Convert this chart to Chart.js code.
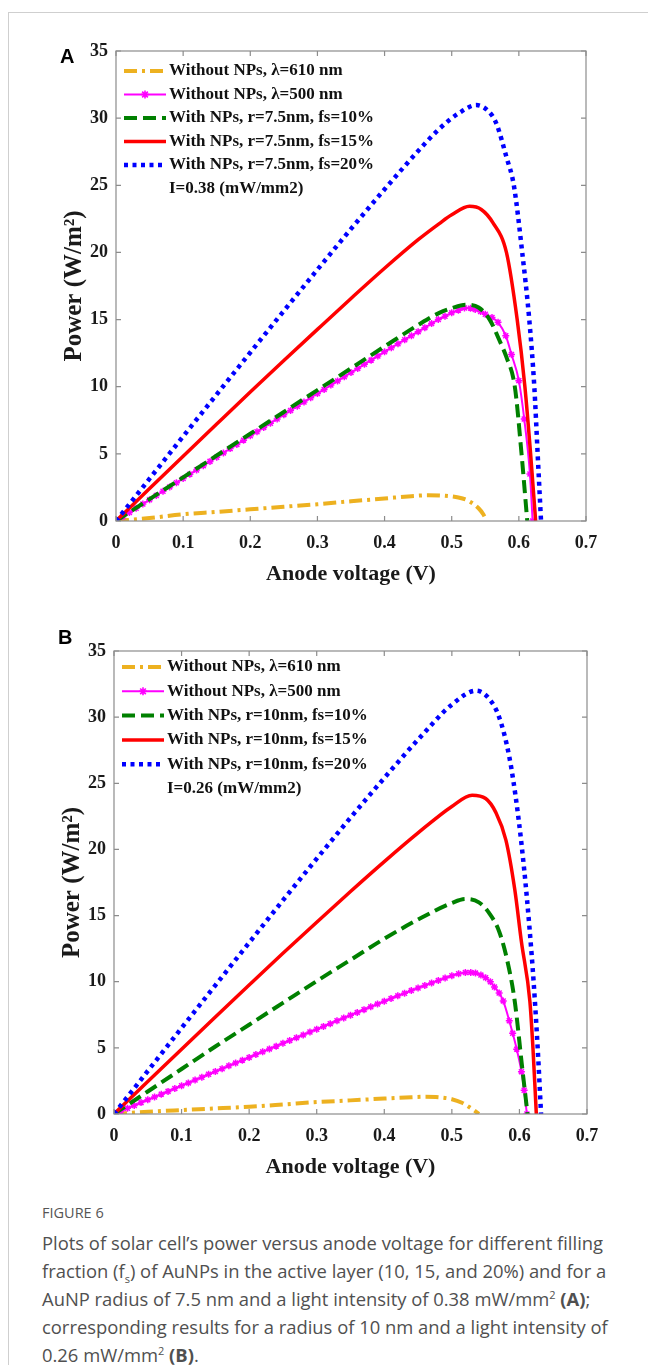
<!DOCTYPE html>
<html>
<head>
<meta charset="utf-8">
<script src="https://cdn.jsdelivr.net/npm/chart.js@4.4.0/dist/chart.umd.min.js"></script>
<style>
  body { margin: 0; background: #fff; width: 648px; height: 1365px; overflow: hidden; position: relative; }
  #frame { position: absolute; left: 8px; top: 12px; width: 660px; height: 1400px; border-left: 1px solid #cfcfcf; border-top: 1px solid #cfcfcf; }
  canvas { position: absolute; left: 0; }
  #cA { top: 0; }
  #cB { top: 600px; }
  .panel { position: absolute; font: bold 20px "Liberation Sans", Arial, sans-serif; color: #000; }
  #fig { position: absolute; left: 42px; top: 1203px; font: 14.5px/20px "Open Sans", sans-serif; color: #555; }
  #caption { position: absolute; left: 42px; top: 1229px; margin: 0; font: 18.4px/28px "Open Sans", sans-serif; color: #505050; white-space: nowrap; }
  #caption sub, #caption sup { font-size: 11px; line-height: 0; }
</style>
</head>
<body>
<div id="frame"></div>
<canvas id="cA" width="648" height="600"></canvas>
<canvas id="cB" width="648" height="600"></canvas>
<div class="panel" style="left:60px; top:45px;">A</div>
<div class="panel" style="left:58px; top:626px;">B</div>
<div id="fig">FIGURE 6</div>
<p id="caption">Plots of solar cell’s power versus anode voltage for different filling<br>fraction (f<sub>s</sub>) of AuNPs in the active layer (10, 15, and 20%) and for a<br>AuNP radius of 7.5 nm and a light intensity of 0.38 mW/mm<sup>2</sup> <b>(A)</b>;<br>corresponding results for a radius of 10 nm and a light intensity of<br>0.26 mW/mm<sup>2</sup> <b>(B)</b>.</p>
<script>
// ---- panel A data (r = 7.5 nm, I = 0.38 mW/mm2) ----
var labelsA = ['Without NPs, \u03bb=610 nm', 'Without NPs, \u03bb=500 nm', 'With NPs, r=7.5nm, fs=10%', 'With NPs, r=7.5nm, fs=15%', 'With NPs, r=7.5nm, fs=20%'];
var voltA_610 = [0, 0.05, 0.1, 0.15, 0.2, 0.25, 0.3, 0.35, 0.4, 0.44, 0.465, 0.49, 0.51, 0.525, 0.54, 0.547, 0.552];
var powA_610  = [0, 0.22, 0.5, 0.68, 0.87, 1.06, 1.25, 1.47, 1.68, 1.85, 1.92, 1.88, 1.75, 1.5, 0.95, 0.5, 0];
var voltA_500 = [0, 0.01, 0.02, 0.03, 0.04, 0.05, 0.06, 0.07, 0.08, 0.09, 0.1, 0.11, 0.12, 0.13, 0.14, 0.15, 0.16, 0.17, 0.18, 0.19, 0.2,
                 0.21, 0.22, 0.23, 0.24, 0.25, 0.26, 0.27, 0.28, 0.29, 0.3, 0.31, 0.32, 0.33, 0.34, 0.35, 0.36, 0.37, 0.38, 0.39, 0.4,
                 0.41, 0.42, 0.43, 0.44, 0.45, 0.46, 0.47, 0.48, 0.49, 0.5, 0.51, 0.519, 0.528, 0.535, 0.543, 0.55, 0.56, 0.569, 0.5805,
                 0.589, 0.6, 0.608, 0.6165, 0.6205];
var powA_500  = [0, 0.32, 0.63, 0.95, 1.27, 1.58, 1.9, 2.22, 2.54, 2.85, 3.17, 3.49, 3.8, 4.12, 4.44, 4.75, 5.07, 5.39, 5.7, 6.02, 6.34,
                 6.65, 6.97, 7.28, 7.6, 7.92, 8.23, 8.55, 8.86, 9.18, 9.49, 9.8, 10.12, 10.43, 10.74, 11.05, 11.36, 11.67, 11.98, 12.29, 12.6,
                 12.9, 13.2, 13.5, 13.8, 14.1, 14.4, 14.7, 15.0, 15.25, 15.5, 15.7, 15.87, 15.85, 15.75, 15.6, 15.4, 15.15, 14.8, 13.8,
                 12.4, 10.45, 7.6, 3.5, 0];
var voltA_f10 = [0, 0.05, 0.1, 0.15, 0.2, 0.25, 0.3, 0.35, 0.4, 0.45, 0.4815, 0.5, 0.5215, 0.54, 0.5565, 0.5715, 0.5815, 0.594, 0.604, 0.6125];
var powA_f10  = [0, 1.63, 3.25, 4.88, 6.5, 8.12, 9.75, 11.37, 13.0, 14.6, 15.5, 15.85, 16.1, 15.9, 15.0, 13.4, 12.2, 10, 5, 0];
var voltA_f15 = [0, 0.05, 0.1, 0.15, 0.2, 0.25, 0.3, 0.35, 0.4, 0.45, 0.4815, 0.5, 0.5265, 0.544, 0.5615, 0.5815, 0.5975, 0.609, 0.6175, 0.625];
var powA_f15  = [0, 2.42, 4.83, 7.22, 9.6, 11.95, 14.27, 16.57, 18.82, 20.95, 22.15, 22.8, 23.43, 23.2, 22.2, 20, 15, 10, 5, 0];
var voltA_f20 = [0, 0.05, 0.1, 0.15, 0.2, 0.25, 0.3, 0.35, 0.4, 0.45, 0.4815, 0.5115, 0.5365, 0.555, 0.5665, 0.5815, 0.5925, 0.605, 0.6155, 0.623, 0.628, 0.633];
var powA_f20  = [0, 3.15, 6.3, 9.43, 12.55, 15.65, 18.72, 21.75, 24.7, 27.55, 29.2, 30.4, 30.97, 30.5, 29.6, 27.1, 25, 20, 15, 10, 5, 0];

// ---- panel B data (r = 10 nm, I = 0.26 mW/mm2) ----
var labelsB = ['Without NPs, \u03bb=610 nm', 'Without NPs, \u03bb=500 nm', 'With NPs, r=10nm, fs=10%', 'With NPs, r=10nm, fs=15%', 'With NPs, r=10nm, fs=20%'];
var voltB_610 = [0, 0.05, 0.1, 0.15, 0.2, 0.25, 0.3, 0.35, 0.4, 0.44, 0.46, 0.48, 0.5, 0.515, 0.525, 0.535, 0.54];
var powB_610  = [0, 0.17, 0.3, 0.42, 0.55, 0.72, 0.9, 1.03, 1.17, 1.27, 1.3, 1.27, 1.12, 0.85, 0.55, 0.2, 0];
var voltB_500 = [0, 0.01, 0.02, 0.03, 0.04, 0.05, 0.06, 0.07, 0.08, 0.09, 0.1, 0.11, 0.12, 0.13, 0.14, 0.15, 0.16, 0.17, 0.18, 0.19, 0.2,
                 0.21, 0.22, 0.23, 0.24, 0.25, 0.26, 0.27, 0.28, 0.29, 0.3, 0.31, 0.32, 0.33, 0.34, 0.35, 0.36, 0.37, 0.38, 0.39, 0.4,
                 0.41, 0.42, 0.43, 0.44, 0.45, 0.46, 0.47, 0.48, 0.49, 0.5, 0.51, 0.52, 0.528, 0.535, 0.543, 0.55, 0.557, 0.563, 0.57,
                 0.576, 0.585, 0.59, 0.596, 0.603, 0.607, 0.611];
var powB_500  = [0, 0.21, 0.43, 0.64, 0.86, 1.07, 1.28, 1.5, 1.71, 1.93, 2.14, 2.35, 2.57, 2.78, 3.0, 3.21, 3.42, 3.64, 3.85, 4.07, 4.28,
                 4.49, 4.7, 4.92, 5.13, 5.35, 5.56, 5.77, 5.98, 6.2, 6.41, 6.62, 6.83, 7.05, 7.26, 7.47, 7.68, 7.89, 8.1, 8.31, 8.52,
                 8.73, 8.93, 9.13, 9.33, 9.53, 9.72, 9.91, 10.1, 10.28, 10.45, 10.6, 10.7, 10.7, 10.65, 10.5, 10.3, 10.0, 9.6, 9.15,
                 8.55, 7.05, 6.1, 4.9, 3.2, 1.8, 0];
var voltB_f10 = [0, 0.05, 0.1, 0.15, 0.2, 0.25, 0.3, 0.35, 0.4, 0.45, 0.5, 0.52, 0.54, 0.555, 0.57, 0.582, 0.593, 0.604, 0.612];
var powB_f10  = [0, 1.7, 3.4, 5.1, 6.75, 8.4, 10.05, 11.65, 13.25, 14.7, 15.95, 16.25, 16.0, 15.2, 13.8, 11.6, 8.55, 3.55, 0];
var voltB_f15 = [0, 0.05, 0.1, 0.15, 0.2, 0.25, 0.3, 0.35, 0.4, 0.45, 0.5, 0.53, 0.55, 0.565, 0.58, 0.593, 0.603, 0.6155, 0.62, 0.625];
var powB_f15  = [0, 2.45, 4.9, 7.33, 9.75, 12.15, 14.5, 16.82, 19.08, 21.25, 23.25, 24.1, 23.85, 22.8, 20.7, 17, 13, 8.5, 5, 0];
var voltB_f20 = [0, 0.05, 0.1, 0.15, 0.2, 0.25, 0.3, 0.35, 0.4, 0.45, 0.5, 0.536, 0.555, 0.57, 0.585, 0.597, 0.607, 0.615, 0.621, 0.627, 0.632];
var powB_f20  = [0, 3.25, 6.5, 9.73, 12.95, 16.15, 19.3, 22.4, 25.4, 28.3, 30.95, 32.0, 31.4, 30.0, 27.0, 23.0, 18.5, 14.0, 10.0, 5.0, 0];

var xTicks = [0, 0.1, 0.2, 0.3, 0.4, 0.5, 0.6, 0.7];
var yTicks = [0, 5, 10, 15, 20, 25, 30, 35];

var SERIF = '"Liberation Serif", "Times New Roman", serif';
var styles = [
    {color: '#EDB120', width: 4, dash: [13, 5, 3, 5]},
    {color: '#FF00FF', width: 2, dash: [], marker: true},
    {color: '#008000', width: 4, dash: [13, 6]},
    {color: '#FF0000', width: 3.5, dash: []},
    {color: '#0000FF', width: 4.5, dash: [4, 4.5]}
];

function pts(v, p) {
    return v.map(function (x, i) { return {x: x, y: p[i]}; });
}

function makeSets(labels, series) {
    return series.map(function (s, i) {
        var st = styles[i];
        return {
            label: labels[i],
            data: pts(s[0], s[1]),
            borderColor: st.color,
            backgroundColor: st.color,
            borderWidth: st.width,
            borderDash: st.dash,
            borderCapStyle: 'butt',
            pointRadius: st.marker ? 3.5 : 0,
            pointStyle: 'star',
            pointBorderWidth: 1.5,
            pointBorderColor: st.color,
            cubicInterpolationMode: 'monotone',
            fill: false,
            order: 5 - i
        };
    });
}

// box with inward ticks, MATLAB style
var boxPlugin = {
    id: 'boxTicks',
    afterDraw: function (chart) {
        var ctx = chart.ctx, a = chart.chartArea, x = chart.scales.x, y = chart.scales.y;
        ctx.save();
        ctx.strokeStyle = '#8c8c8c';
        ctx.lineWidth = 1.2;
        ctx.strokeRect(a.left, a.top, a.right - a.left, a.bottom - a.top);
        ctx.beginPath();
        xTicks.forEach(function (v) {
            var px = x.getPixelForValue(v);
            ctx.moveTo(px, a.bottom); ctx.lineTo(px, a.bottom - 5);
            ctx.moveTo(px, a.top); ctx.lineTo(px, a.top + 5);
        });
        yTicks.forEach(function (v) {
            var py = y.getPixelForValue(v);
            ctx.moveTo(a.left, py); ctx.lineTo(a.left + 5, py);
            ctx.moveTo(a.right, py); ctx.lineTo(a.right - 5, py);
        });
        ctx.stroke();
        ctx.restore();
    }
};

// legend drawn inside the axes, top left
var inLegend = {
    id: 'inLegend',
    afterDraw: function (chart, args, opt) {
        var ctx = chart.ctx, a = chart.chartArea;
        var x0 = a.left + 8, x1 = a.left + 50, tx = a.left + 53;
        ctx.save();
        ctx.font = 'bold 17px ' + SERIF;
        ctx.textBaseline = 'middle';
        ctx.fillStyle = '#111';
        chart.data.datasets.forEach(function (ds, i) {
            var yy = a.top + opt.y0 + i * opt.dy;
            ctx.strokeStyle = ds.borderColor;
            ctx.lineWidth = ds.borderWidth;
            ctx.setLineDash(ds.borderDash);
            ctx.lineCap = 'butt';
            ctx.beginPath();
            ctx.moveTo(x0, yy); ctx.lineTo(x1, yy);
            ctx.stroke();
            ctx.setLineDash([]);
            if (ds.pointRadius > 0) {
                var cx = (x0 + x1) / 2;
                ctx.lineWidth = 1.6;
                ctx.beginPath();
                for (var k = 0; k < 4; k++) {
                    var ang = k * Math.PI / 4;
                    ctx.moveTo(cx - 4 * Math.cos(ang), yy - 4 * Math.sin(ang));
                    ctx.lineTo(cx + 4 * Math.cos(ang), yy + 4 * Math.sin(ang));
                }
                ctx.stroke();
            }
            ctx.fillText(ds.label, tx, yy);
        });
        ctx.fillText(opt.note, tx, a.top + opt.y0 + 5 * opt.dy);
        ctx.restore();
    }
};

function makeChart(id, labels, series, pad, leg) {
    var canvas = document.getElementById(id);
    return new Chart(canvas, {
        type: 'line',
        data: {datasets: makeSets(labels, series)},
        options: {
            responsive: false,
            animation: false,
            layout: {padding: pad},
            plugins: {
                legend: {display: false},
                tooltip: {enabled: false},
                inLegend: leg
            },
            scales: {
                x: {
                    type: 'linear', min: 0, max: 0.7,
                    afterBuildTicks: function (s) { s.ticks = xTicks.map(function (v) { return {value: v}; }); },
                    afterFit: function (s) { s.height = 70; },
                    grid: {display: false, drawTicks: false},
                    border: {display: false},
                    ticks: {
                        padding: 12, color: '#1a1a1a', maxRotation: 0,
                        font: {family: SERIF, size: 18, weight: 'bold'},
                        callback: function (v) { return v === 0 ? '0' : v.toFixed(1); }
                    },
                    title: {display: true, text: 'Anode voltage (V)', color: '#1a1a1a',
                        font: {family: SERIF, size: 22, weight: 'bold'}, padding: {top: 4, bottom: 3}}
                },
                y: {
                    min: 0, max: 35,
                    afterBuildTicks: function (s) { s.ticks = yTicks.map(function (v) { return {value: v}; }); },
                    afterFit: function (s) { s.width = 58; },
                    grid: {display: false, drawTicks: false},
                    border: {display: false},
                    ticks: {padding: 8, color: '#1a1a1a', font: {family: SERIF, size: 18, weight: 'bold'}},
                    title: {display: true, text: 'Power (W/m\u00b2)', color: '#1a1a1a',
                        font: {family: SERIF, size: 25, weight: 'bold'}, padding: {top: 2, bottom: 2}}
                }
            }
        },
        plugins: [boxPlugin, inLegend]
    });
}

makeChart('cA', labelsA,
    [[voltA_610, powA_610], [voltA_500, powA_500], [voltA_f10, powA_f10], [voltA_f15, powA_f15], [voltA_f20, powA_f20]],
    {top: 51, left: 58, right: 62, bottom: 9},
    {y0: 20, dy: 23.5, note: 'I=0.38 (mW/mm2)'});

makeChart('cB', labelsB,
    [[voltB_610, powB_610], [voltB_500, powB_500], [voltB_f10, powB_f10], [voltB_f15, powB_f15], [voltB_f20, powB_f20]],
    {top: 51, left: 56, right: 61, bottom: 16},
    {y0: 16, dy: 24.3, note: 'I=0.26 (mW/mm2)'});
</script>
</body>
</html>
